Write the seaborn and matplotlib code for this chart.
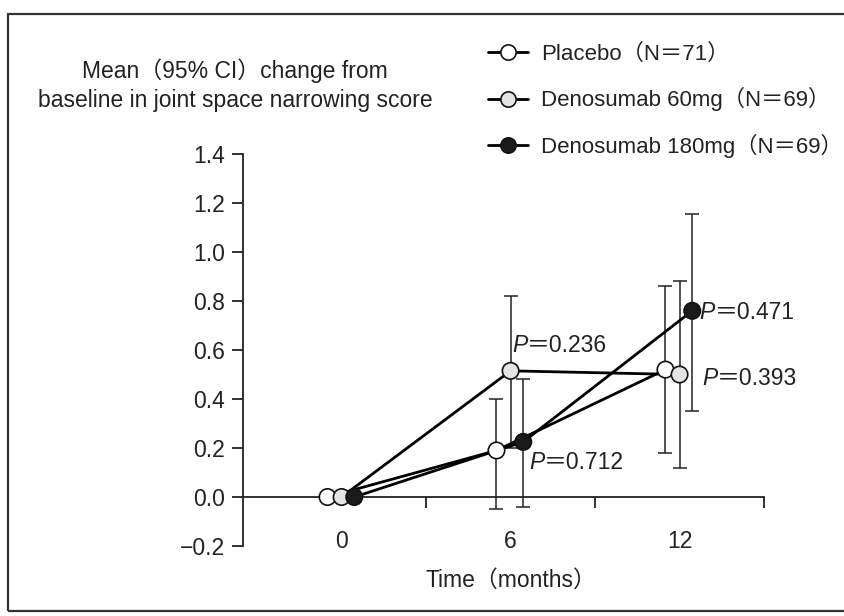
import matplotlib

matplotlib.use("Agg")
import matplotlib.pyplot as plt
import pandas as pd
import seaborn as sns
from matplotlib.lines import Line2D
from matplotlib.patches import Rectangle

# values
TIMES = [0, 6, 12]
GROUPS = ["Placebo（N＝71）", "Denosumab 60mg（N＝69）", "Denosumab 180mg（N＝69）"]
PLACEBO_MEAN = [0.0, 0.19, 0.52]
PLACEBO_LOW = [0.0, -0.05, 0.18]
PLACEBO_HIGH = [0.0, 0.40, 0.86]
DENO60_MEAN = [0.0, 0.515, 0.50]
DENO60_LOW = [0.0, 0.20, 0.12]
DENO60_HIGH = [0.0, 0.82, 0.88]
DENO180_MEAN = [0.0, 0.225, 0.76]
DENO180_LOW = [0.0, -0.04, 0.35]
DENO180_HIGH = [0.0, 0.48, 1.155]
P_VALUES = ["0.236", "0.712", "0.471", "0.393"]
Y_TICKS = [-0.2, 0.0, 0.2, 0.4, 0.6, 0.8, 1.0, 1.2, 1.4]
Y_TICK_LABELS = ["\u22120.2", "0.0", "0.2", "0.4", "0.6", "0.8", "1.0", "1.2", "1.4"]
X_TICK_LABELS = ["0", "6", "12"]
TITLE = "Mean（95% CI）change from\nbaseline in joint space narrowing score"
X_LABEL = "Time（months）"

# small horizontal dodge so the groups don't sit on top of each other
DODGE = {GROUPS[0]: -0.5, GROUPS[1]: 0.0, GROUPS[2]: 0.45}
FACES = {GROUPS[0]: "white", GROUPS[1]: "#e4e4e4", GROUPS[2]: "#1a1a1a"}
INK = "#222222"


def build_frame() -> pd.DataFrame:
    series = [
        (GROUPS[0], PLACEBO_MEAN, PLACEBO_LOW, PLACEBO_HIGH),
        (GROUPS[1], DENO60_MEAN, DENO60_LOW, DENO60_HIGH),
        (GROUPS[2], DENO180_MEAN, DENO180_LOW, DENO180_HIGH),
    ]
    rows = []
    for group, mean, low, high in series:
        for t, m, lo, hi in zip(TIMES, mean, low, high):
            rows.append({"group": group, "time": t, "x": t + DODGE[group],
                         "mean": m, "low": lo, "high": hi})
    return pd.DataFrame(rows)


def draw(df: pd.DataFrame) -> None:
    fig = plt.figure(figsize=(8.45, 6.16), dpi=100)
    ax = fig.add_axes([0.2876, 0.1136, 0.6166, 0.6364])

    sns.lineplot(data=df, x="x", y="mean", hue="group", hue_order=GROUPS,
                 palette=["black"] * 3, linewidth=2.0, legend=False, ax=ax, zorder=2)
    for group, sub in df.groupby("group", sort=False):
        ax.errorbar(sub["x"], sub["mean"],
                    yerr=[sub["mean"] - sub["low"], sub["high"] - sub["mean"]],
                    fmt="none", ecolor=INK, elinewidth=1.1, capsize=5,
                    capthick=1.1, zorder=1)
    marker_order = [GROUPS[1], GROUPS[0], GROUPS[2]]
    sns.scatterplot(data=df, x="x", y="mean", hue="group", hue_order=marker_order,
                    palette=FACES, edgecolor="#111111", linewidth=1.2, s=140,
                    legend=False, ax=ax, zorder=3)

    ax.set_xlim(-3.5, 15)
    ax.set_ylim(-0.2, 1.4)
    ax.set_xlabel("")
    ax.set_ylabel("")
    sns.despine(ax=ax)
    ax.spines["bottom"].set_position(("data", 0))
    for side in ("left", "bottom"):
        ax.spines[side].set_linewidth(1.3)
        ax.spines[side].set_color(INK)

    ax.set_yticks(Y_TICKS, labels=Y_TICK_LABELS)
    ax.set_xticks(TIMES, labels=X_TICK_LABELS)
    ax.set_xticks([3, 9, 15], minor=True)
    ax.tick_params(axis="y", direction="out", length=8, width=1.3, pad=5,
                   labelsize=16.5, color=INK, labelcolor=INK)
    ax.tick_params(axis="x", which="major", length=0, pad=24,
                   labelsize=16.5, labelcolor=INK)
    ax.tick_params(axis="x", which="minor", direction="out", length=8,
                   width=1.3, color=INK)

    ax.text(6, -0.34, X_LABEL, ha="center", va="center",
            fontsize=16.5, color=INK, clip_on=False)

    p_spots = [(6.05, 0.62), (6.65, 0.14), (12.7, 0.755), (12.8, 0.485)]
    for (px, py), pv in zip(p_spots, P_VALUES):
        p = ax.text(px, py, "P", style="italic", ha="left", va="center",
                    fontsize=16.5, color=INK)
        ax.annotate("＝" + pv, xy=(1, 0), xycoords=p, ha="left", va="bottom",
                    fontsize=16.5, color=INK)

    fig.text(235 / 845, 1 - 85 / 616, TITLE, ha="center", va="center",
             fontsize=16.5, color=INK, linespacing=1.3)

    handles = [
        Line2D([], [], color="black", linewidth=2.0, marker="o", markersize=11,
               markerfacecolor=FACES[g], markeredgecolor="#111111",
               markeredgewidth=1.2)
        for g in GROUPS
    ]
    fig.legend(handles, GROUPS, loc="upper left",
               bbox_to_anchor=(468 / 845, 1 - 24 / 616), frameon=False,
               fontsize=16, handlelength=1.8, handletextpad=0.6,
               labelspacing=1.0, labelcolor=INK)

    fig.patches.append(Rectangle((8 / 845, 1 - 611 / 616), 1.1, (611 - 14) / 616,
                                 transform=fig.transFigure, fill=False,
                                 edgecolor="#333333", linewidth=1.6))

    fig.savefig("out.png", dpi=100)
    plt.close(fig)


def main() -> None:
    sns.set_theme(style="ticks")
    plt.rcParams["font.family"] = ["Liberation Sans", "Noto Sans CJK JP", "DejaVu Sans"]
    draw(build_frame())


if __name__ == "__main__":
    main()
